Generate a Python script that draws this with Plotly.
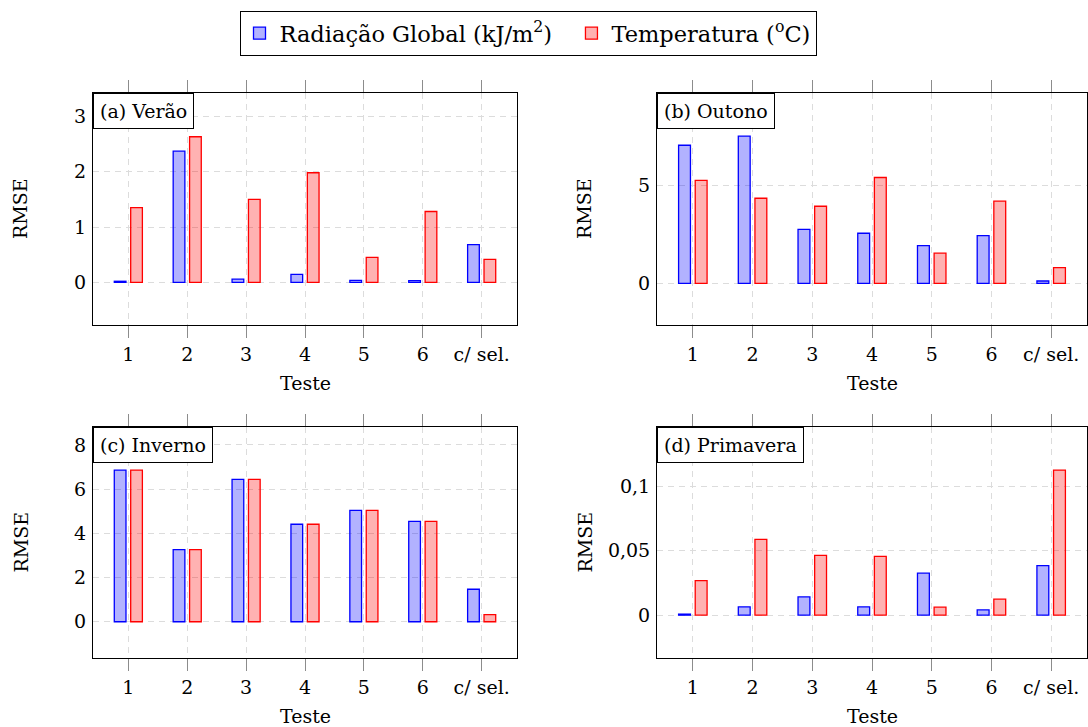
import plotly.graph_objects as go

categories = ["1", "2", "3", "4", "5", "6", "c/ sel."]

verao_rad = [0.02, 2.37, 0.06, 0.145, 0.035, 0.03, 0.68]
verao_temp = [1.35, 2.63, 1.50, 1.98, 0.45, 1.28, 0.415]
outono_rad = [7.06, 7.53, 2.76, 2.56, 1.93, 2.44, 0.12]
outono_temp = [5.26, 4.35, 3.94, 5.41, 1.54, 4.20, 0.80]
inverno_rad = [6.86, 3.26, 6.44, 4.41, 5.04, 4.54, 1.47]
inverno_temp = [6.86, 3.26, 6.44, 4.41, 5.04, 4.54, 0.32]
primavera_rad = [0.0008, 0.0065, 0.0142, 0.0065, 0.0326, 0.0041, 0.0385]
primavera_temp = [0.0269, 0.0589, 0.0465, 0.0457, 0.0062, 0.0124, 0.1127]

panel_labels = ["(a) Verão", "(b) Outono", "(c) Inverno", "(d) Primavera"]
series_names = ["Radiação Global (kJ/m<sup>2</sup>)&nbsp;&nbsp;", "Temperatura (<sup>o</sup>C)"]
x_title = "Teste"
y_title = "RMSE"
y_ranges = [[-0.77, 3.42], [-2.13, 9.73], [-1.64, 8.81], [-0.0333, 0.1462]]
y_dticks = [1, 5, 2, 0.05]

rad_sets = [verao_rad, outono_rad, inverno_rad, primavera_rad]
temp_sets = [verao_temp, outono_temp, inverno_temp, primavera_temp]

W, H = 1088, 727
FONT = "DejaVu Serif"
FS = 19
LFS = 22.5

# panel boxes in pixels: (left, right, top, bottom)
boxes = [(93, 517, 93, 325), (657, 1087, 93, 325),
         (93, 517, 427, 658), (657, 1087, 427, 658)]

fig = go.Figure()

for i in range(4):
    xa = "x" if i == 0 else f"x{i+1}"
    ya = "y" if i == 0 else f"y{i+1}"
    fig.add_trace(go.Bar(
        x=categories, y=rad_sets[i], xaxis=xa, yaxis=ya,
        name=series_names[0], legendgroup="rad", showlegend=(i == 0),
        marker=dict(color="rgba(0,0,255,0.3)", line=dict(color="#0000ff", width=1.3)),
    ))
    fig.add_trace(go.Bar(
        x=categories, y=temp_sets[i], xaxis=xa, yaxis=ya,
        name=series_names[1], legendgroup="temp", showlegend=(i == 0),
        marker=dict(color="rgba(255,0,0,0.3)", line=dict(color="#ff0000", width=1.3)),
    ))

layout = dict(
    width=W, height=H,
    margin=dict(l=0, r=0, t=0, b=0, autoexpand=False),
    paper_bgcolor="white", plot_bgcolor="white",
    font=dict(family=FONT, size=FS, color="black"),
    separators=",.",
    barmode="group", bargap=0.443, bargroupgap=0.287,
    legend=dict(
        orientation="h", x=528 / W, y=1 - 11 / H, xanchor="center", yanchor="top",
        bordercolor="black", borderwidth=1, bgcolor="white",
        font=dict(family=FONT, size=LFS), itemwidth=30,
    ),
    annotations=[],
)

for i in range(4):
    l, r, t, b = boxes[i]
    xk = "xaxis" if i == 0 else f"xaxis{i+1}"
    yk = "yaxis" if i == 0 else f"yaxis{i+1}"
    xa = "x" if i == 0 else f"x{i+1}"
    ya = "y" if i == 0 else f"y{i+1}"
    layout[xk] = dict(
        domain=[l / W, r / W], anchor=ya, automargin=False,
        range=[-0.6, 6.6], type="category",
        showline=True, linecolor="black", linewidth=1, mirror="ticks",
        ticks="outside", ticklen=12, tickcolor="#8c8c8c", tickwidth=1,
        showgrid=True, gridcolor="#dcdcdc", griddash="6px,5px", gridwidth=1,
        tickfont=dict(family=FONT, size=FS),
        zeroline=False, fixedrange=True,
    )
    layout[yk] = dict(
        domain=[1 - b / H, 1 - t / H], anchor=xa, automargin=False,
        range=y_ranges[i], dtick=y_dticks[i], tick0=0,
        showline=True, linecolor="black", linewidth=1, mirror=True,
        ticks="", showgrid=True, gridcolor="#dcdcdc", griddash="6px,5px", gridwidth=1,
        tickfont=dict(family=FONT, size=FS), ticklabelstandoff=2,
        zeroline=False, fixedrange=True,
    )
    # right-side inner ticks
    yk2 = f"yaxis{i+5}"
    layout[yk2] = dict(
        overlaying=ya, side="right", anchor=xa, automargin=False,
        range=y_ranges[i], dtick=y_dticks[i], tick0=0,
        ticks="inside", ticklen=12, tickcolor="#8c8c8c", tickwidth=1,
        showticklabels=False, showgrid=False, showline=False, zeroline=False,
        fixedrange=True,
    )
    layout["annotations"].append(dict(
        text=panel_labels[i], xref=f"{xa} domain", yref=f"{ya} domain",
        x=0, y=1, xanchor="left", yanchor="top", showarrow=False,
        bordercolor="black", borderwidth=1, bgcolor="white", borderpad=6,
        font=dict(family=FONT, size=FS, color="black"),
    ))
    layout["annotations"].append(dict(
        text=y_title, xref=f"{xa} domain", yref=f"{ya} domain",
        x=0, y=0.5, xshift=-73, xanchor="center", yanchor="middle",
        textangle=-90, showarrow=False, font=dict(family=FONT, size=FS, color="black"),
    ))
    layout["annotations"].append(dict(
        text=x_title, xref=f"{xa} domain", yref=f"{ya} domain",
        x=0.5, y=0, yshift=-58, xanchor="center", yanchor="middle",
        showarrow=False, font=dict(family=FONT, size=FS, color="black"),
    ))

fig.update_layout(**layout)
fig.write_html("out.html", config={"displayModeBar": False},
               post_script="document.body.style.margin='0';")
